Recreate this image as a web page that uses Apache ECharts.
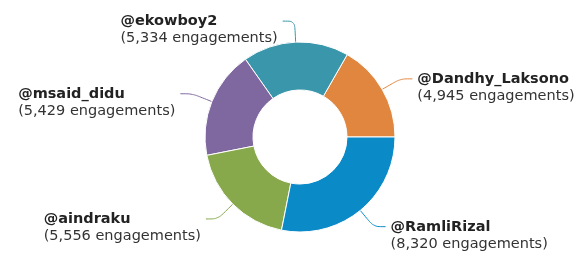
<!DOCTYPE html>
<html>
<head>
<meta charset="utf-8">
<script src="https://cdn.jsdelivr.net/npm/echarts@6/dist/echarts.min.js"></script>
<style>
  html, body { margin: 0; padding: 0; background: #fff; }
  #chart { width: 582px; height: 259px; }
</style>
</head>
<body>
<div id="chart"></div>
<script>
// slices, counter-clockwise from 3 o'clock
const handles = ['@Dandhy_Laksono', '@ekowboy2', '@msaid_didu', '@aindraku', '@RamliRizal']
const engagements = [4945, 5334, 5429, 5556, 8320]
const colors = ['#e0863f', '#3a96ab', '#7f68a0', '#88a84c', '#0b8ac8']

const chart = echarts.init(document.getElementById('chart'))

chart.setOption({
  animation: false,
  textStyle: {
    fontFamily: 'DejaVu Sans',
  },
  series: [
    {
      type: 'pie',
      center: [300, 137],
      radius: [47, 95],
      startAngle: 0,
      clockwise: false,
      avoidLabelOverlap: false,
      itemStyle: {
        borderColor: '#fff',
        borderWidth: 1,
      },
      label: {
        show: true,
        position: 'outside',
        padding: [18, 0, 0, 0],
        formatter: (p) =>
          '{b|' + p.name + '}\n{n|(' + p.value.toLocaleString('en-US') + ' engagements)}',
        rich: {
          b: {
            fontSize: 14.5,
            fontWeight: 'bold',
            color: '#222',
            lineHeight: 17,
            align: 'left',
          },
          n: {
            fontSize: 14.5,
            color: '#333',
            lineHeight: 17,
            align: 'left',
          },
        },
      },
      labelLine: {
        show: true,
        length: 21,
        length2: 12,
        smooth: 0.3,
        lineStyle: {
          width: 1,
        },
      },
      data: handles.map((name, i) => ({
        name: name,
        value: engagements[i],
        itemStyle: { color: colors[i] },
      })),
    },
  ],
})
</script>
</body>
</html>
